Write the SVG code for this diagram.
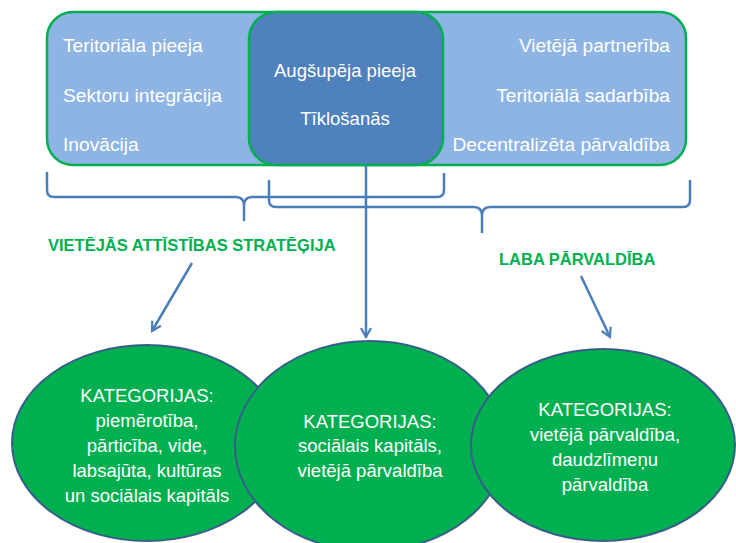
<svg xmlns="http://www.w3.org/2000/svg" width="736" height="543" viewBox="0 0 736 543">
<style>
.t{font-family:"Liberation Sans",Arial,sans-serif;font-size:18.5px;fill:#fff}
.b{font-size:19.2px}
.c{text-anchor:middle}
.r{text-anchor:end}
.g{font-family:"Liberation Sans",Arial,sans-serif;font-size:16.5px;font-weight:bold;fill:#00B050}
.ell{fill:#00B050;stroke:#385D8A;stroke-width:2}
.con{fill:none;stroke:#4A7EBB;stroke-width:2.5}
</style>
<defs>
<marker id="arr" viewBox="0 0 12 12" refX="10" refY="6" markerWidth="12" markerHeight="12" orient="auto" markerUnits="userSpaceOnUse">
<path d="M1,1 L10,6 L1,11" fill="none" stroke="#4A7EBB" stroke-width="2.2"/>
</marker>
</defs>
<rect width="736" height="543" fill="#fff"/>
<g id="outer-box">
<rect x="47" y="12" width="639" height="153" rx="26" fill="#8EB4E3" stroke="#00B050" stroke-width="2.5"/>
<text class="t b" x="63" y="52">Teritoriāla pieeja</text>
<text class="t b" x="63" y="102">Sektoru integrācija</text>
<text class="t b" x="63" y="151">Inovācija</text>
<text class="t b r" x="670" y="52">Vietējā partnerība</text>
<text class="t b r" x="670" y="102">Teritoriālā sadarbība</text>
<text class="t b r" x="670" y="151">Decentralizēta pārvaldība</text>
</g>
<g id="inner-box">
<rect x="249" y="12" width="194" height="153" rx="27" fill="#4F81BD" stroke="#00B050" stroke-width="2.5"/>
<text class="t c" x="345" y="77">Augšupēja pieeja</text>
<text class="t c" x="345" y="125">Tīklošanās</text>
</g>
<g id="connectors">
<path class="con" d="M47,172 V190 Q47,197 54,197 H236 Q244,197 244,206 V221 M244,206 Q244,197 252,197 H437 Q444,197 444,190 V173"/>
<path class="con" d="M269,180 V200 Q269,207 276,207 H474 Q482,207 482,216 V233 M482,216 Q482,207 490,207 H683 Q690,207 690,200 V180"/>
<line class="con" x1="366" y1="165" x2="366" y2="337" marker-end="url(#arr)"/>
<line class="con" x1="192" y1="263" x2="152" y2="331" marker-end="url(#arr)"/>
<line class="con" x1="581" y1="276" x2="610" y2="337" marker-end="url(#arr)"/>
</g>
<g id="label-strategy">
<text class="g" x="48" y="251">VIETĒJĀS ATTĪSTĪBAS STRATĒĢIJA</text>
</g>
<g id="label-governance">
<text class="g" x="499" y="265">LABA PĀRVALDĪBA</text>
</g>
<g id="circle-left">
<ellipse class="ell" cx="147" cy="443" rx="135" ry="98"/>
<text class="t c" x="147" y="402">KATEGORIJAS:</text>
<text class="t c" x="147" y="427">piemērotība,</text>
<text class="t c" x="147" y="452">pārticība, vide,</text>
<text class="t c" x="147" y="477">labsajūta, kultūras</text>
<text class="t c" x="147" y="502">un sociālais kapitāls</text>
</g>
<g id="circle-middle">
<ellipse class="ell" cx="370" cy="446" rx="135" ry="105"/>
<text class="t c" x="370" y="428">KATEGORIJAS:</text>
<text class="t c" x="370" y="452">sociālais kapitāls,</text>
<text class="t c" x="370" y="477">vietējā pārvaldība</text>
</g>
<g id="circle-right">
<ellipse class="ell" cx="603" cy="445" rx="132" ry="96"/>
<text class="t c" x="605" y="416">KATEGORIJAS:</text>
<text class="t c" x="605" y="441">vietējā pārvaldība,</text>
<text class="t c" x="605" y="466">daudzlīmeņu</text>
<text class="t c" x="605" y="491">pārvaldība</text>
</g>
</svg>
